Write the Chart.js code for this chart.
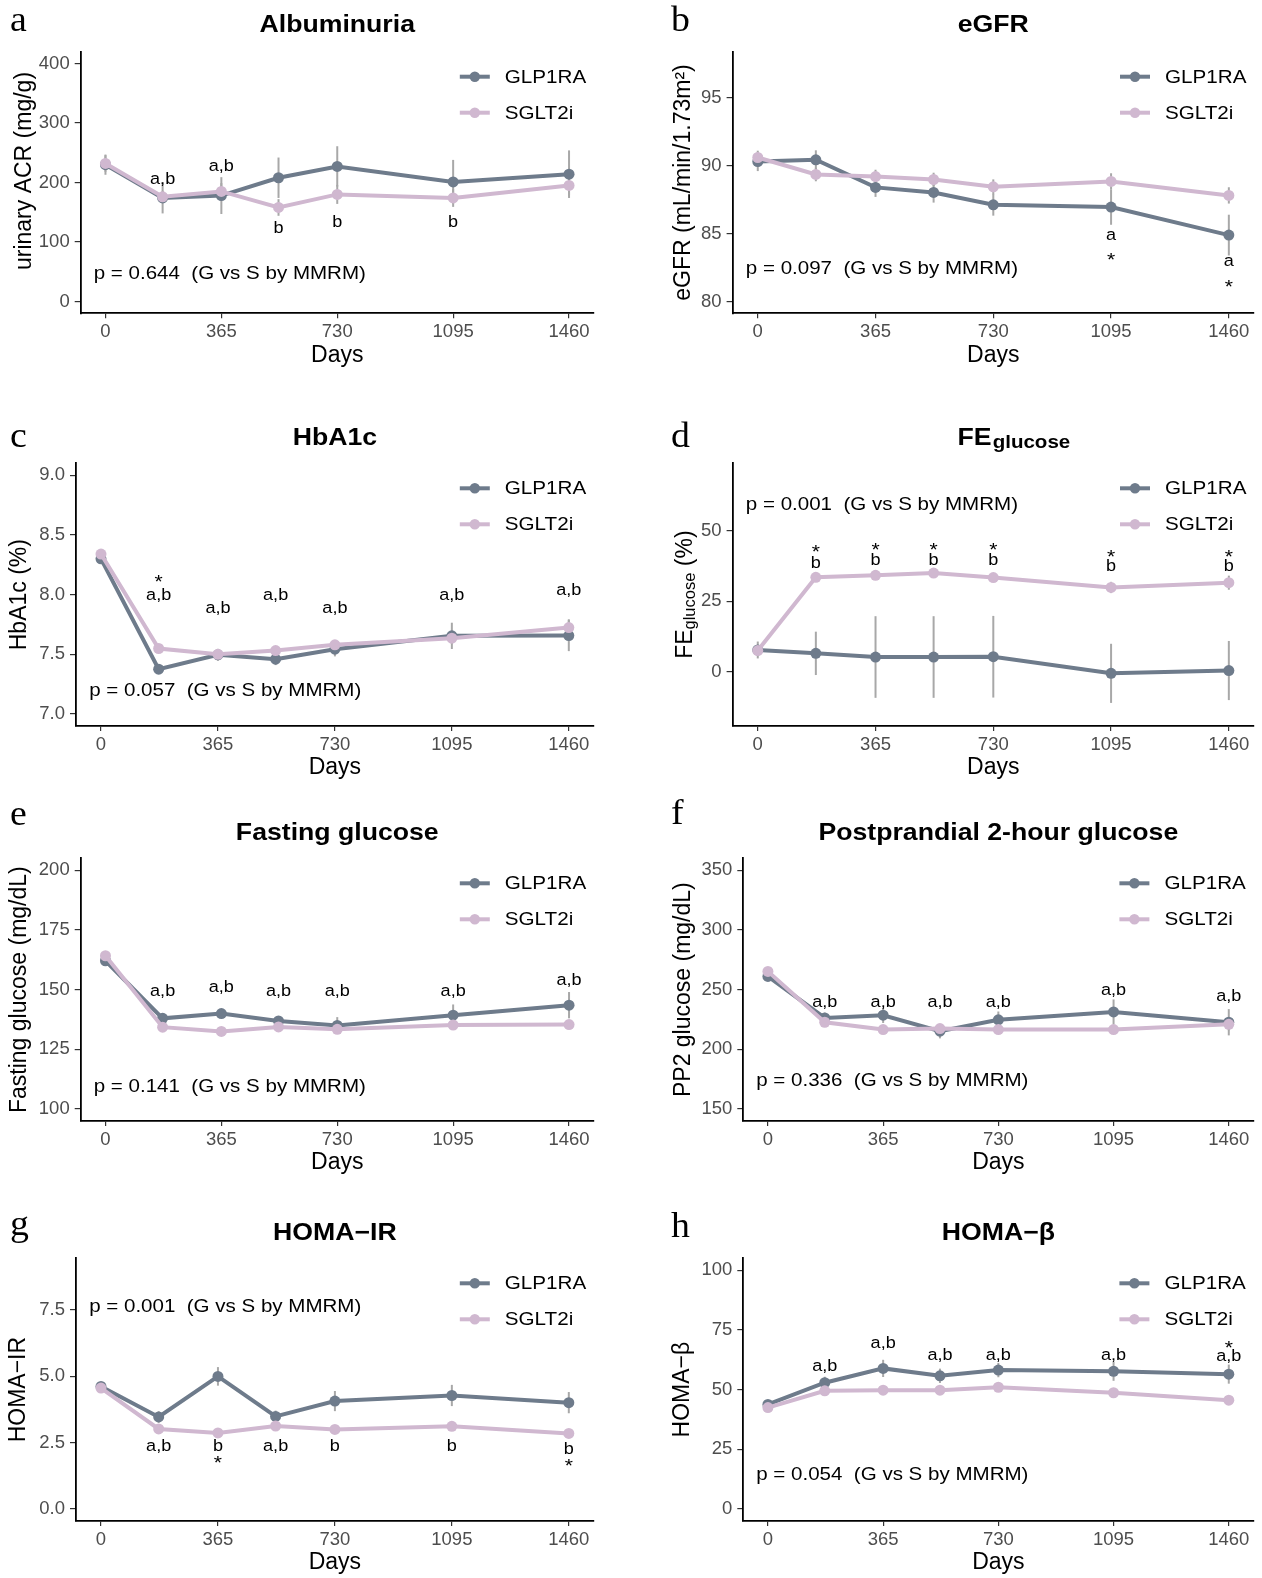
<!DOCTYPE html>
<html>
<head>
<meta charset="utf-8">
<script src="https://cdn.jsdelivr.net/npm/chart.js@4.4.1/dist/chart.umd.min.js"></script>
<style>
  html, body { margin: 0; padding: 0; background: #ffffff; }
  body { width: 1262px; height: 1578px; position: relative; overflow: hidden; }
  canvas { position: absolute; }
</style>
</head>
<body>
<script>
// ---------------- DATA ----------------
const days = [0, 180, 365, 545, 730, 1095, 1460];
const dayTicks = [0, 365, 730, 1095, 1460];
const groupNames = ['GLP1RA', 'SGLT2i'];
const pValues = ['0.644', '0.097', '0.057', '0.001', '0.141', '0.336', '0.001', '0.054'];

// a  Albuminuria
const acrGLP = [230, 174, 178, 208, 227, 201, 214];
const acrGLPse = [17, 26, 31, 34, 34, 37, 40];
const acrSGLT = [232, 176, 185, 158, 180, 174, 195];
const acrSGLTse = [14, 10, 14, 14, 16, 15, 17];
const acrTicks = [0, 100, 200, 300, 400];
const acrNotes = [[180, 205, 'a,b'], [365, 227, 'a,b'], [545, 123, 'b'], [730, 133, 'b'], [1095, 133, 'b']];

// b  eGFR
const egfrGLP = [90.29, 90.42, 88.39, 88.02, 87.11, 86.94, 84.88];
const egfrGLPse = [0.7, 0.7, 0.7, 0.75, 0.8, 1.3, 1.5];
const egfrSGLT = [90.59, 89.34, 89.19, 88.97, 88.43, 88.83, 87.80];
const egfrSGLTse = [0.5, 0.5, 0.5, 0.5, 0.55, 0.6, 0.6];
const egfrTicks = [80, 85, 90, 95];
const egfrNotes = [[1095, 84.88, 'a'], [1095, 83.3, '*'], [1460, 82.9, 'a'], [1460, 81.3, '*']];

// c  HbA1c
const hba1cGLP = [8.30, 7.376, 7.496, 7.46, 7.543, 7.655, 7.657];
const hba1cGLPse = [0.03, 0.04, 0.05, 0.05, 0.06, 0.11, 0.13];
const hba1cSGLT = [8.34, 7.549, 7.50, 7.532, 7.58, 7.635, 7.724];
const hba1cSGLTse = [0.03, 0.03, 0.03, 0.03, 0.03, 0.05, 0.07];
const hba1cTicks = [7.0, 7.5, 8.0, 8.5, 9.0];
const hba1cNotes = [[180, 8.137, '*'], [180, 7.99, 'a,b'], [365, 7.886, 'a,b'], [545, 7.99, 'a,b'], [730, 7.886, 'a,b'], [1095, 7.99, 'a,b'], [1460, 8.033, 'a,b']];

// d  FE glucose
const feGLP = [7.7, 6.5, 5.2, 5.2, 5.3, -0.6, 0.4];
const feGLPse = [3, 7.7, 14.5, 14.5, 14.5, 10.5, 10.5];
const feSGLT = [7.5, 33.5, 34.2, 35.0, 33.4, 29.9, 31.6];
const feSGLTse = [2, 1.5, 1.5, 1.5, 1.5, 2, 2.5];
const feTicks = [0, 25, 50];
const feNotes = [[180, 43.8, '*'], [180, 38.5, 'b'], [365, 44.4, '*'], [365, 39.3, 'b'], [545, 44.4, '*'], [545, 39.3, 'b'],
                 [730, 44.4, '*'], [730, 39.3, 'b'], [1095, 42.1, '*'], [1095, 37.3, 'b'], [1460, 42.1, '*'], [1460, 37.3, 'b']];

// e  Fasting glucose
const fgGLP = [162.1, 138.0, 140.0, 136.9, 135.0, 139.3, 143.5];
const fgGLPse = [1.5, 1.5, 1.8, 1.8, 3.5, 4.5, 5.5];
const fgSGLT = [164.2, 134.3, 132.5, 134.4, 133.4, 135.2, 135.4];
const fgSGLTse = [1.2, 1.2, 1.2, 1.2, 1.5, 1.5, 1.5];
const fgTicks = [100, 125, 150, 175, 200];
const fgNotes = [[180, 149.2, 'a,b'], [365, 151, 'a,b'], [545, 149.2, 'a,b'], [730, 149.2, 'a,b'], [1095, 149.2, 'a,b'], [1460, 154, 'a,b']];

// f  Postprandial 2-hour glucose
const ppGLP = [261.1, 226.3, 228.6, 215.2, 224.7, 231.3, 222.7];
const ppGLPse = [3, 4.5, 6.5, 6, 7, 10.5, 11];
const ppSGLT = [265.3, 222.7, 216.6, 217.4, 216.6, 216.6, 221];
const ppSGLTse = [3, 3, 3, 3, 3, 3, 5];
const ppTicks = [150, 200, 250, 300, 350];
const ppNotes = [[180, 238.9, 'a,b'], [365, 238.9, 'a,b'], [545, 238.9, 'a,b'], [730, 238.9, 'a,b'], [1095, 249.2, 'a,b'], [1460, 243.9, 'a,b']];

// g  HOMA-IR
const irGLP = [4.62, 3.47, 5.0, 3.49, 4.07, 4.28, 4.01];
const irGLPse = [0.1, 0.22, 0.35, 0.22, 0.38, 0.4, 0.4];
const irSGLT = [4.56, 3.02, 2.87, 3.13, 3.0, 3.12, 2.85];
const irSGLTse = [0.08, 0.08, 0.08, 0.08, 0.08, 0.08, 0.08];
const irTicks = [0.0, 2.5, 5.0, 7.5];
const irNotes = [[180, 2.37, 'a,b'], [365, 2.37, 'b'], [365, 1.87, '*'], [545, 2.37, 'a,b'], [730, 2.37, 'b'], [1095, 2.37, 'b'], [1460, 2.24, 'b'], [1460, 1.75, '*']];

// h  HOMA-beta
const betaGLP = [43.8, 52.9, 58.9, 55.8, 58.2, 57.7, 56.5];
const betaGLPse = [1, 2.5, 3.6, 3, 3, 4, 4];
const betaSGLT = [42.5, 49.5, 49.8, 49.8, 51.0, 48.7, 45.6];
const betaSGLTse = [1.2, 1.2, 1.2, 1.2, 1.2, 1.2, 1.2];
const betaTicks = [0, 25, 50, 75, 100];
const betaNotes = [[180, 59.6, 'a,b'], [365, 69.3, 'a,b'], [545, 64.4, 'a,b'], [730, 64.4, 'a,b'], [1095, 64.4, 'a,b'], [1460, 63.7, 'a,b'], [1460, 69.0, '*']];

// ---------------- STYLE / LAYOUT ----------------
const FONT = "'Liberation Sans', Arial, Helvetica, sans-serif";
const SERIF = "'Liberation Serif', 'Times New Roman', serif";
const GLP_COLOR = '#6E7B8B';
const SGLT_COLOR = '#D0B8D0';
const ERR_COLOR = '#A8A8A8';
const SX = 1.11; // horizontal stretch of the reference lettering
const TICK_SIZE = 18.5;
const AXIS_T = 23;   // axis title size

const panels = [
  { letter: 'a', title: 'Albuminuria', yTitleParts: [['urinary ACR (mg/g)', 0]], yTitleDy: -11.5,
    glp: acrGLP, glpSe: acrGLPse, sglt: acrSGLT, sgltSe: acrSGLTse, yTicks: acrTicks, dec: 0, notes: acrNotes, pVal: pValues[0],
    pY: 46, yMin: -20, yMax: 420, cell: [0, 0, 631, 395], area: [80.7, 51.7, 593.8, 313.3], titleY: 32.3, letterPos: [10, 30.7], yTitleX: 23 },
  { letter: 'b', title: 'eGFR', yTitle: 'eGFR (mL/min/1.73m\u00B2)',
    glp: egfrGLP, glpSe: egfrGLPse, sglt: egfrSGLT, sgltSe: egfrSGLTse, yTicks: egfrTicks, dec: 0, notes: egfrNotes, pVal: pValues[1],
    pY: 82.4, yMin: 79.125, yMax: 98.375, cell: [631, 0, 631, 395], area: [732.6, 51.7, 1254, 313.3], titleY: 32.3, letterPos: [671, 30.7], yTitleX: 684 },
  { letter: 'c', title: 'HbA1c', yTitle: 'HbA1c (%)',
    glp: hba1cGLP, glpSe: hba1cGLPse, sglt: hba1cSGLT, sgltSe: hba1cSGLTse, yTicks: hba1cTicks, dec: 1, notes: hba1cNotes, pVal: pValues[2],
    pY: 7.19, yMin: 6.9, yMax: 9.1, cell: [0, 395, 631, 395], area: [76, 463.3, 593.8, 726], titleY: 445, letterPos: [10, 446.7], yTitleX: 20 },
  { letter: 'd', title: 'FE', titleSub: 'glucose', titleDx: 20, yTitleParts: [['FE', 0], ['glucose', 1], [' (%)', 0]],
    glp: feGLP, glpSe: feGLPse, sglt: feSGLT, sgltSe: feSGLTse, yTicks: feTicks, dec: 0, notes: feNotes, pVal: pValues[3],
    pY: 59.2, yMin: -19.3, yMax: 74, cell: [631, 395, 631, 395], area: [732.6, 463.3, 1254, 726], titleY: 445, letterPos: [671, 446.7], yTitleX: 684 },
  { letter: 'e', title: 'Fasting glucose', yTitle: 'Fasting glucose (mg/dL)',
    glp: fgGLP, glpSe: fgGLPse, sglt: fgSGLT, sgltSe: fgSGLTse, yTicks: fgTicks, dec: 0, notes: fgNotes, pVal: pValues[4],
    pY: 109.4, yMin: 95, yMax: 205, cell: [0, 790, 631, 395], area: [80.7, 858.3, 593.8, 1121], titleY: 840, letterPos: [10, 825], yTitleX: 20 },
  { letter: 'f', title: 'Postprandial 2-hour glucose', yTitle: 'PP2 glucose (mg/dL)',
    glp: ppGLP, glpSe: ppGLPse, sglt: ppSGLT, sgltSe: ppSGLTse, yTicks: ppTicks, dec: 0, notes: ppNotes, pVal: pValues[5],
    pY: 173.4, yMin: 140, yMax: 360, cell: [631, 790, 631, 395], area: [743.3, 858.3, 1253.4, 1121], titleY: 840, letterPos: [671, 824], yTitleX: 684 },
  { letter: 'g', title: 'HOMA\u2212IR', yTitle: 'HOMA\u2212IR',
    glp: irGLP, glpSe: irGLPse, sglt: irSGLT, sgltSe: irSGLTse, yTicks: irTicks, dec: 1, notes: irNotes, pVal: pValues[6],
    pY: 7.62, yMin: -0.45, yMax: 9.45, cell: [0, 1185, 631, 393], area: [76, 1258.3, 593.8, 1521], titleY: 1240, letterPos: [10, 1235], yTitleX: 19 },
  { letter: 'h', title: 'HOMA\u2212\u03B2', yTitle: 'HOMA\u2212\u03B2',
    glp: betaGLP, glpSe: betaGLPse, sglt: betaSGLT, sgltSe: betaSGLTse, yTicks: betaTicks, dec: 0, notes: betaNotes, pVal: pValues[7],
    pY: 14.2, yMin: -5, yMax: 105, cell: [631, 1185, 631, 393], area: [743.3, 1258.3, 1253.4, 1521], titleY: 1240, letterPos: [671, 1236.7], yTitleX: 683 }
];

const X_MIN = -78, X_MAX = 1538;
const XH = 53.5;      // height of x-axis box (ticks + "Days")

function stretched(ctx, text, x, y, sx) {
  ctx.save();
  ctx.translate(x, y);
  ctx.scale(sx, 1);
  ctx.fillText(text, 0, 0);
  ctx.restore();
}

function makeDecor(p) {
  const [cx, cy] = p.cell;
  return {
    id: 'decor' + p.letter,
    beforeDatasetsDraw(chart) {
      const ctx = chart.ctx, xs = chart.scales.x, ys = chart.scales.y;
      ctx.save();
      ctx.strokeStyle = ERR_COLOR;
      ctx.lineWidth = 2;
      [[p.glp, p.glpSe], [p.sglt, p.sgltSe]].forEach(([v, se]) => {
        days.forEach((d, i) => {
          const x = xs.getPixelForValue(d);
          ctx.beginPath();
          ctx.moveTo(x, ys.getPixelForValue(v[i] - se[i]));
          ctx.lineTo(x, ys.getPixelForValue(v[i] + se[i]));
          ctx.stroke();
        });
      });
      ctx.restore();
    },
    afterDraw(chart) {
      const ctx = chart.ctx, xs = chart.scales.x, ys = chart.scales.y, ca = chart.chartArea;
      ctx.save();
      ctx.fillStyle = '#000';

      // significance annotations
      ctx.textAlign = 'center';
      ctx.textBaseline = 'middle';
      p.notes.forEach(([d, v, t]) => {
        const star = t === '*';
        ctx.font = star ? `19px ${FONT}` : `16.3px ${FONT}`;
        stretched(ctx, t, xs.getPixelForValue(d), ys.getPixelForValue(v) + (star ? 4.5 : 0), SX);
      });

      // p-value text
      ctx.font = `18.5px ${FONT}`;
      ctx.textAlign = 'left';
      stretched(ctx, `p = ${p.pVal}  (G vs S by MMRM)`, xs.getPixelForValue(-37), ys.getPixelForValue(p.pY), SX);

      // legend
      const lx = ca.right - 134;
      [[GLP_COLOR, groupNames[0]], [SGLT_COLOR, groupNames[1]]].forEach(([c, t], k) => {
        const y = ca.top + 25 + 36 * k;
        ctx.strokeStyle = c;
        ctx.lineWidth = 4;
        ctx.beginPath(); ctx.moveTo(lx, y); ctx.lineTo(lx + 30, y); ctx.stroke();
        ctx.fillStyle = c;
        ctx.beginPath(); ctx.arc(lx + 15, y, 5.2, 0, Math.PI * 2); ctx.fill();
        ctx.fillStyle = '#000';
        ctx.font = `18.6px ${FONT}`;
        ctx.textAlign = 'left';
        ctx.textBaseline = 'middle';
        stretched(ctx, t, lx + 45, y + 1, SX);
      });

      // title
      const tcx = (ca.left + ca.right) / 2 + (p.titleDx || 0);
      const ty = p.titleY - cy;
      ctx.fillStyle = '#000';
      ctx.textBaseline = 'alphabetic';
      if (p.titleSub) {
        ctx.font = `bold 24px ${FONT}`;
        const w1 = ctx.measureText(p.title).width;
        ctx.font = `bold 18.5px ${FONT}`;
        const w2 = ctx.measureText(p.titleSub).width;
        ctx.save();
        ctx.translate(tcx, ty);
        ctx.scale(SX, 1);
        ctx.textAlign = 'left';
        const x0 = -(w1 + w2) / 2;
        ctx.font = `bold 24px ${FONT}`;
        ctx.fillText(p.title, x0, 0);
        ctx.font = `bold 18.5px ${FONT}`;
        ctx.fillText(p.titleSub, x0 + w1 + 1, 3);
        ctx.restore();
      } else {
        ctx.font = `bold 24px ${FONT}`;
        ctx.textAlign = 'center';
        stretched(ctx, p.title, tcx, ty, SX);
      }

      // panel letter
      ctx.font = `36px ${SERIF}`;
      ctx.textAlign = 'left';
      stretched(ctx, p.letter, p.letterPos[0] - cx, p.letterPos[1] - cy, 1.05);

      // custom y-axis title (subscript / shifted)
      if (p.yTitleParts) {
        ctx.save();
        ctx.translate(p.yTitleX - cx, (ca.top + ca.bottom) / 2 + (p.yTitleDy || 0));
        ctx.rotate(-Math.PI / 2);
        ctx.textAlign = 'left';
        ctx.textBaseline = 'alphabetic';
        const fonts = [`${AXIS_T}px ${FONT}`, `16.5px ${FONT}`];
        let total = 0;
        p.yTitleParts.forEach(([t, s]) => { ctx.font = fonts[s]; total += ctx.measureText(t).width; });
        let x = -total / 2;
        p.yTitleParts.forEach(([t, s]) => {
          ctx.font = fonts[s];
          ctx.fillText(t, x, 8 + (s ? 3 : 0));
          x += ctx.measureText(t).width;
        });
        ctx.restore();
      }
      ctx.restore();
    }
  };
}

panels.forEach(p => {
  const [cx, cy, cw, ch] = p.cell;
  const [L, T, R, B] = p.area;
  const canvas = document.createElement('canvas');
  canvas.width = cw; canvas.height = ch;
  canvas.style.left = cx + 'px'; canvas.style.top = cy + 'px';
  canvas.style.width = cw + 'px'; canvas.style.height = ch + 'px';
  document.body.appendChild(canvas);

  const mk = (vals) => days.map((d, i) => ({ x: d, y: vals[i] }));
  new Chart(canvas, {
    type: 'line',
    data: {
      datasets: [
        { label: groupNames[0], data: mk(p.glp), borderColor: GLP_COLOR, backgroundColor: GLP_COLOR,
          pointBackgroundColor: GLP_COLOR, pointBorderWidth: 0, borderWidth: 4, pointRadius: 5.5, tension: 0, order: 1 },
        { label: groupNames[1], data: mk(p.sglt), borderColor: SGLT_COLOR, backgroundColor: SGLT_COLOR,
          pointBackgroundColor: SGLT_COLOR, pointBorderWidth: 0, borderWidth: 4, pointRadius: 5.5, tension: 0, order: 0 }
      ]
    },
    options: {
      responsive: false,
      animation: false,
      devicePixelRatio: 1,
      events: [],
      layout: { padding: { left: 0, top: T - cy, right: cx + cw - R, bottom: cy + ch - B - XH } },
      plugins: { legend: { display: false }, tooltip: { enabled: false }, title: { display: false } },
      scales: {
        x: {
          type: 'linear', min: X_MIN, max: X_MAX,
          afterBuildTicks: s => { s.ticks = dayTicks.map(v => ({ value: v })); },
          afterFit: s => { s.height = XH; s.paddingLeft = 0; s.paddingRight = 0; },
          ticks: { font: { family: FONT, size: TICK_SIZE }, color: '#4D4D4D', padding: 2.5, maxRotation: 0, autoSkip: false,
                   callback: v => String(v) },
          grid: { display: true, drawOnChartArea: false, drawTicks: true, tickLength: 5, color: '#333333', lineWidth: 1.2 },
          border: { display: true, color: '#000000', width: 1.8 },
          title: { display: true, text: 'Days', color: '#000000', font: { family: FONT, size: AXIS_T, lineHeight: 1 }, padding: { top: 0, bottom: 0 } }
        },
        y: {
          type: 'linear', min: p.yMin, max: p.yMax,
          afterBuildTicks: s => { s.ticks = p.yTicks.map(v => ({ value: v })); },
          afterFit: s => { s.width = L - cx; s.paddingTop = 0; s.paddingBottom = 0; },
          ticks: { font: { family: FONT, size: TICK_SIZE }, color: '#4D4D4D', padding: 5, autoSkip: false,
                   callback: v => Number(v).toFixed(p.dec) },
          grid: { display: true, drawOnChartArea: false, drawTicks: true, tickLength: 6, color: '#333333', lineWidth: 1.2 },
          border: { display: true, color: '#000000', width: 1.8 },
          title: { display: !p.yTitleParts, text: p.yTitle || '', color: '#000000',
                   font: { family: FONT, size: AXIS_T, lineHeight: 1 }, padding: { top: p.yTitleX - cx - AXIS_T / 2, bottom: 0 } }
        }
      }
    },
    plugins: [makeDecor(p)]
  });
});
</script>
</body>
</html>
